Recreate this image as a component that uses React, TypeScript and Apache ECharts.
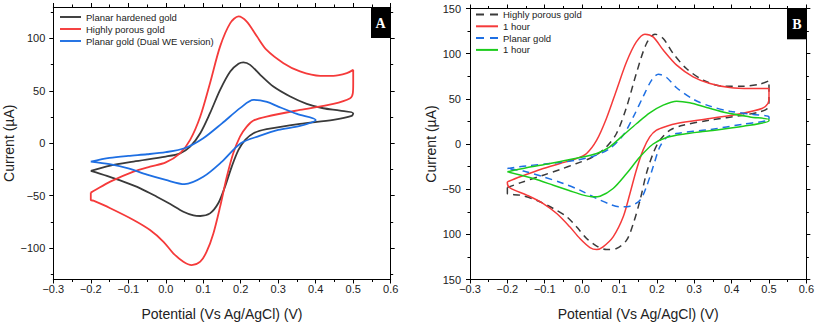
import React, { useEffect, useRef } from 'react';
import * as echarts from 'echarts';

const FONT = '"Liberation Sans", Arial, Helvetica, sans-serif';

const X_TICK_VALUES = [-0.3, -0.2, -0.1, 0, 0.1, 0.2, 0.3, 0.4, 0.5, 0.6];
const X_TICK_LABELS = ['−0.3', '−0.2', '−0.1', '0.0', '0.1', '0.2', '0.3', '0.4', '0.5', '0.6'];
const A_Y_TICK_VALUES = [-100, -50, 0, 50, 100];
const A_Y_TICK_LABELS = ['−100', '−50', '0', '50', '100'];
const B_Y_TICK_VALUES = [-150, -100, -50, 0, 50, 100, 150];
const B_Y_TICK_LABELS = ['150', '100', '−50', '0', '50', '100', '150'];

const X_TITLE = 'Potential (Vs Ag/AgCl) (V)';
const Y_TITLE = 'Current (µA)';

// Panel A: [potential V, current µA]
const A_HARDENED = [
  [-0.2, -26.4], [-0.148, -21.3], [-0.086, -17.5], [0, -12.7], [0.038, -9.6], [0.065, -3.2],
  [0.092, 9.6], [0.118, 28.7], [0.145, 51], [0.172, 68.5], [0.194, 75.8], [0.207, 77.1],
  [0.225, 74.8], [0.252, 65.3], [0.287, 54.1], [0.332, 44.6], [0.376, 37.6], [0.42, 33.4],
  [0.465, 31.2], [0.5, 28.7], [0.496, 26.1], [0.447, 22.3], [0.358, 18.5], [0.269, 13.4],
  [0.234, 9.6], [0.212, 3.2], [0.194, -6.4], [0.176, -22.3], [0.158, -41.4], [0.14, -57.3],
  [0.118, -66.9], [0.092, -69.4], [0.074, -68.8], [0.047, -65.3], [0.012, -58], [-0.024, -51],
  [-0.068, -43], [-0.113, -36.6], [-0.157, -31.2], [-0.2, -26.4],
];
const A_POROUS = [
  [-0.2, -47.1], [-0.188, -44.6], [-0.148, -36.6], [-0.086, -27.1], [-0.042, -22.3], [0, -18.2],
  [0.038, -9.6], [0.065, 3.2], [0.092, 25.5], [0.118, 57.3], [0.145, 92.4], [0.172, 114.6],
  [0.194, 121], [0.216, 116], [0.243, 102], [0.269, 89], [0.314, 76.4], [0.358, 68.5],
  [0.412, 64.3], [0.447, 64.3], [0.483, 66.9], [0.5, 70], [0.5, 57], [0.499, 47.8],
  [0.492, 43], [0.447, 37.6], [0.358, 31.8], [0.269, 25.5], [0.234, 21.7], [0.216, 15.9],
  [0.198, 6.4], [0.18, -9.6], [0.163, -31.8], [0.145, -60.5], [0.127, -86], [0.109, -103.5],
  [0.092, -113], [0.069, -116.2], [0.047, -113], [0.02, -105], [-0.006, -94], [-0.042, -82.8],
  [-0.086, -73.2], [-0.148, -62], [-0.193, -54.8], [-0.2, -54.1], [-0.2, -47.1],
];
const A_DUAL = [
  [-0.2, -17.5], [-0.15, -14], [-0.1, -12], [-0.05, -10.5], [0, -8.5], [0.05, -4.8],
  [0.1, 4.8], [0.15, 19], [0.2, 34], [0.234, 41.4], [0.27, 39.5], [0.3, 35], [0.35, 28],
  [0.4, 22.3], [0.358, 16.6], [0.3, 12.7], [0.25, 7], [0.2, 0], [0.15, -17.5], [0.1, -32],
  [0.05, -39], [0, -35], [-0.05, -30], [-0.1, -24], [-0.15, -20], [-0.2, -17.5],
];

// Panel B
const B_POROUS = [
  [-0.2, -48.2], [-0.166, -43], [-0.104, -34.5], [-0.059, -28.2], [-0.015, -21.6], [0.03, -14.2],
  [0.065, -3.1], [0.092, 11.6], [0.119, 41], [0.145, 78], [0.172, 111], [0.195, 121.6],
  [0.217, 116.8], [0.244, 100], [0.279, 83.6], [0.324, 70.7], [0.377, 64], [0.431, 64],
  [0.475, 66.2], [0.5, 70], [0.5, 48.5], [0.496, 39.3], [0.475, 35.6], [0.431, 31.9],
  [0.342, 26.4], [0.27, 20.8], [0.235, 15.3], [0.208, 4.2], [0.19, -10.5], [0.172, -32.7],
  [0.155, -62.2], [0.137, -88], [0.119, -106.5], [0.092, -115.7], [0.065, -116.8], [0.039, -113],
  [0.012, -104.6], [-0.015, -91.7], [-0.041, -80.6], [-0.077, -71.4], [-0.122, -62.2],
  [-0.166, -56.6], [-0.2, -54.8], [-0.2, -48.2],
];
const B_POROUS_1H = [
  [-0.2, -41.9], [-0.166, -36.3], [-0.104, -27.1], [-0.059, -21.6], [-0.015, -16.1], [0.012, -10.5],
  [0.039, 4.2], [0.065, 28.2], [0.092, 59.6], [0.119, 91], [0.145, 113], [0.168, 121.6],
  [0.19, 118.6], [0.217, 104], [0.253, 87.3], [0.297, 74.4], [0.342, 67], [0.395, 62.5],
  [0.449, 61.4], [0.5, 61.4], [0.5, 52], [0.497, 44.8], [0.481, 39.3], [0.427, 33.8],
  [0.342, 28.2], [0.253, 22.7], [0.226, 19.7], [0.199, 15.3], [0.181, 7.9], [0.163, -6.8],
  [0.145, -29], [0.128, -54.8], [0.11, -80.6], [0.083, -102.8], [0.056, -113.8], [0.039, -116.8],
  [0.021, -114.6], [-0.006, -104.6], [-0.033, -91.7], [-0.068, -77], [-0.104, -65.9],
  [-0.148, -56.6], [-0.193, -48.5], [-0.2, -43.2], [-0.2, -41.9],
];
const B_PLANAR = [
  [-0.2, -27.1], [-0.149, -24.2], [-0.086, -21.6], [-0.015, -17.9], [0.03, -13.5], [0.074, -5],
  [0.11, 9.8], [0.137, 30], [0.163, 52.2], [0.186, 70.7], [0.204, 77.3], [0.226, 73.6],
  [0.252, 62.5], [0.297, 49.6], [0.342, 41.9], [0.395, 36.3], [0.458, 32.7], [0.5, 30],
  [0.5, 27.1], [0.431, 22], [0.342, 16], [0.252, 11.6], [0.226, 7.2], [0.208, -3.1],
  [0.19, -25.3], [0.172, -47.4], [0.155, -62.2], [0.128, -68.8], [0.101, -69.6], [0.074, -66.6],
  [0.039, -60.3], [-0.006, -51.1], [-0.05, -43.7], [-0.104, -36.3], [-0.157, -30], [-0.2, -27.1],
];
const B_PLANAR_1H = [
  [-0.2, -30.8], [-0.149, -26.4], [-0.086, -21.6], [-0.015, -15.7], [0.039, -10.5], [0.074, -3.1],
  [0.11, 9.8], [0.146, 22.7], [0.181, 34.5], [0.217, 43], [0.253, 47.4], [0.288, 45.6],
  [0.333, 40.4], [0.386, 34.5], [0.449, 30], [0.5, 27.1], [0.5, 25.6], [0.431, 19.7],
  [0.342, 14.6], [0.27, 10.9], [0.226, 7.2], [0.19, 0], [0.155, -14.2], [0.119, -32.7],
  [0.083, -49.3], [0.048, -57.8], [0.03, -58.5], [0.003, -56.6], [-0.033, -51.8],
  [-0.077, -45.6], [-0.131, -38.2], [-0.2, -30.8],
];

const A_NAMES = ['Planar hardened gold', 'Highly porous gold', 'Planar gold (Dual WE version)'];
const B_IDS = ['B porous', 'B porous 1h', 'B planar', 'B planar 1h'];
const B_LABELS = ['Highly porous gold', '1 hour', 'Planar gold', '1 hour'];
const B_DASHED = [true, false, true, false];

const C_BLACK = '#3a3a3a';
const C_RED = '#f53a3a';
const C_BLUE = '#1e6fe3';
const C_GREEN = '#1ccc1c';

const ICON_SOLID = 'path://M0,0h22v2h-22z';
const ICON_DASHED = 'path://M0,0h8v2h-8zM14,0h8v2h-8z';

function lookup(values: number[], labels: string[]) {
  return (v: number) => {
    const i = values.findIndex((t) => Math.abs(t - v) < 1e-6);
    return i >= 0 ? labels[i] : '';
  };
}

const labelStyle = { fontFamily: FONT, fontSize: 11, color: '#222' };

function xAxes(gridIndex: number) {
  const base = {
    type: 'value',
    gridIndex,
    min: -0.3,
    max: 0.6,
    interval: 0.1,
    splitLine: { show: false },
    axisLine: { show: true, onZero: false, lineStyle: { color: '#000', width: 1 } },
    axisTick: { show: true, inside: false, length: 4, lineStyle: { color: '#000' } },
    minorTick: { show: true, splitNumber: 2, length: 2.5, lineStyle: { color: '#000' } },
  };
  return [
    {
      ...base,
      position: 'bottom',
      axisLabel: { ...labelStyle, margin: 4, formatter: lookup(X_TICK_VALUES, X_TICK_LABELS) },
      name: X_TITLE,
      nameLocation: 'middle',
      nameGap: 27,
      nameTextStyle: { fontFamily: FONT, fontSize: 14, color: '#222' },
    },
    { ...base, position: 'top', axisLabel: { show: false } },
  ];
}

function yAxes(gridIndex: number, panel: 'A' | 'B') {
  const isA = panel === 'A';
  const vals = isA ? A_Y_TICK_VALUES : B_Y_TICK_VALUES;
  const labs = isA ? A_Y_TICK_LABELS : B_Y_TICK_LABELS;
  const base: any = {
    type: 'value',
    gridIndex,
    min: isA ? -130 : -150,
    max: isA ? 130 : 150,
    splitLine: { show: false },
    axisLine: { show: true, onZero: false, lineStyle: { color: '#000', width: 1 } },
    axisTick: { show: true, inside: false, length: 4, lineStyle: { color: '#000' } },
    minorTick: { show: true, splitNumber: 2, length: 2.5, lineStyle: { color: '#000' } },
  };
  if (isA) {
    base.axisTick.customValues = vals;
  } else {
    base.interval = 50;
  }
  const labelCfg: any = { ...labelStyle, margin: isA ? 8 : 9, formatter: lookup(vals, labs) };
  if (isA) labelCfg.customValues = vals;
  return [
    {
      ...base,
      position: 'left',
      axisLabel: labelCfg,
      name: Y_TITLE,
      nameLocation: 'middle',
      nameGap: isA ? 37 : 32,
      nameTextStyle: { fontFamily: FONT, fontSize: 14, color: '#222' },
    },
    { ...base, position: 'right', axisLabel: { show: false } },
  ];
}

function lineSeries(name: string, data: number[][], color: string, grid: number, dashed: boolean, width: number) {
  return {
    type: 'line',
    name,
    data,
    xAxisIndex: grid * 2,
    yAxisIndex: grid * 2,
    showSymbol: false,
    symbol: 'none',
    smooth: 0.3,
    lineStyle: { color, width, type: dashed ? [7, 5] : 'solid' },
    itemStyle: { color },
    emphasis: { disabled: true },
    silent: true,
  };
}

export default function App() {
  const ref = useRef<HTMLDivElement>(null);
  useEffect(() => {
    if (!ref.current) return;
    const chart = echarts.init(ref.current, undefined, { renderer: 'svg' });
    const option: any = {
      animation: false,
      backgroundColor: '#fff',
      grid: [
        { left: 53.3, top: 7, width: 337.4, height: 272.5, containLabel: false },
        { left: 470, top: 8.5, width: 336.7, height: 271, containLabel: false },
      ],
      xAxis: [...xAxes(0), ...xAxes(1)],
      yAxis: [...yAxes(0, 'A'), ...yAxes(1, 'B')],
      legend: [
        {
          data: A_NAMES.map((n) => ({ name: n, icon: ICON_SOLID })),
          orient: 'vertical',
          left: 60,
          top: 12,
          padding: 0,
          itemWidth: 21,
          itemHeight: 2,
          itemGap: 2,
          selectedMode: false,
          textStyle: { fontFamily: FONT, fontSize: 9.5, color: '#222' },
        },
        {
          data: B_IDS.map((n, i) => ({ name: n, icon: B_DASHED[i] ? ICON_DASHED : ICON_SOLID })),
          orient: 'vertical',
          left: 476,
          top: 9.5,
          padding: 0,
          itemWidth: 22,
          itemHeight: 2,
          itemGap: 1.8,
          selectedMode: false,
          formatter: (n: string) => B_LABELS[B_IDS.indexOf(n)],
          textStyle: { fontFamily: FONT, fontSize: 9.5, color: '#222' },
        },
      ],
      series: [
        lineSeries(A_NAMES[0], A_HARDENED, C_BLACK, 0, false, 1.8),
        lineSeries(A_NAMES[1], A_POROUS, C_RED, 0, false, 1.8),
        lineSeries(A_NAMES[2], A_DUAL, C_BLUE, 0, false, 1.8),
        lineSeries(B_IDS[0], B_POROUS, C_BLACK, 1, true, 1.5),
        lineSeries(B_IDS[1], B_POROUS_1H, C_RED, 1, false, 1.5),
        lineSeries(B_IDS[2], B_PLANAR, C_BLUE, 1, true, 1.5),
        lineSeries(B_IDS[3], B_PLANAR_1H, C_GREEN, 1, false, 1.5),
      ],
      graphic: [
        { type: 'rect', shape: { x: 371, y: 7.5, width: 19, height: 30.5 }, style: { fill: '#000' }, silent: true },
        {
          type: 'text', x: 380.5, y: 23, silent: true,
          style: { text: 'A', fill: '#fff', font: 'bold 14px "Liberation Serif", "Times New Roman", serif', align: 'center', verticalAlign: 'middle' },
        },
        { type: 'rect', shape: { x: 787, y: 9, width: 19.7, height: 30.3 }, style: { fill: '#000' }, silent: true },
        {
          type: 'text', x: 796.8, y: 24.5, silent: true,
          style: { text: 'B', fill: '#fff', font: 'bold 14px "Liberation Serif", "Times New Roman", serif', align: 'center', verticalAlign: 'middle' },
        },
      ],
    };
    chart.setOption(option);
    return () => chart.dispose();
  }, []);
  return (
    <div
      ref={ref}
      style={{ position: 'fixed', left: 0, top: 0, width: 817, height: 326, background: '#fff' }}
    />
  );
}
